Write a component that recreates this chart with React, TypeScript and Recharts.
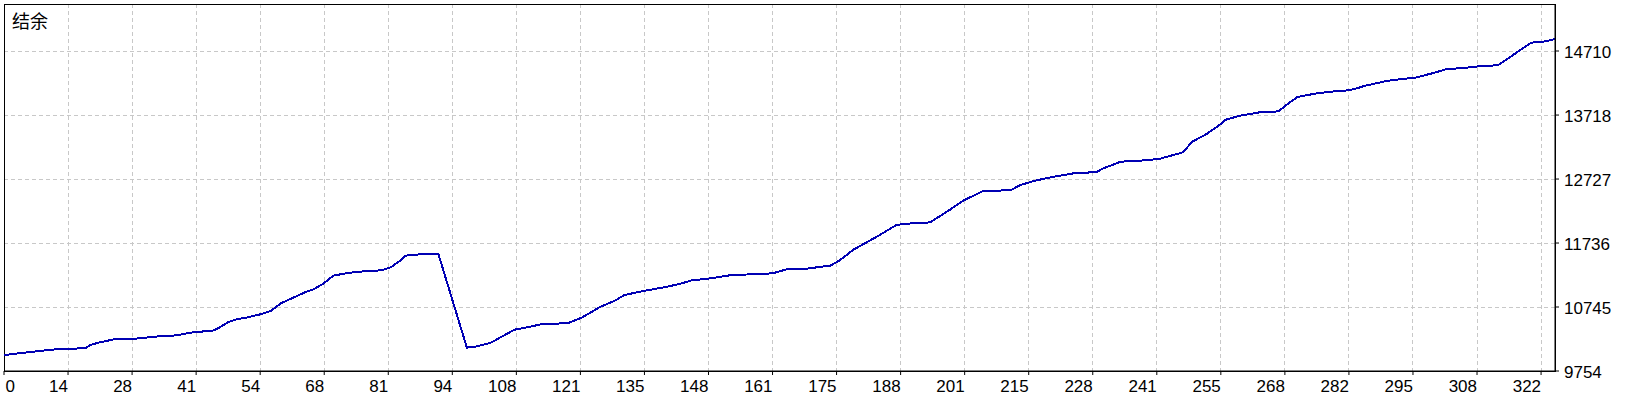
import React from 'react';
import { LineChart, Line, XAxis, YAxis, CartesianGrid, ReferenceArea } from 'recharts';

// Trade number (x) and account balance (y)
const tradeIndex = [
  0, 3, 8, 12, 17, 18, 20, 23, 26, 29, 33, 36, 39, 44, 45, 47, 49, 51, 54, 56,
  58, 60, 63, 65, 67, 69, 72, 76, 79, 81, 83, 84, 87, 91, 97, 99, 102, 104, 107, 110,
  113, 118, 121, 123, 125, 128, 130, 134, 139, 142, 144, 148, 152, 156, 161, 163, 164, 169, 171, 173,
  175, 178, 183, 187, 189, 194, 198, 201, 205, 211, 213, 216, 220, 224, 229, 230, 234, 238, 242, 244,
  247, 249, 252, 255, 256, 259, 263, 267, 269, 271, 275, 278, 281, 283, 285, 290, 296, 300, 302, 307,
  310, 313, 316, 320, 323, 325,
];
const balance = [
  10000, 10027, 10068, 10099, 10104, 10155, 10197, 10243, 10245, 10265, 10296, 10305, 10347, 10383, 10420, 10513, 10559, 10584, 10637, 10688,
  10801, 10869, 10971, 11024, 11111, 11230, 11272, 11303, 11312, 11358, 11462, 11540, 11560, 11571, 10115, 10135, 10192, 10274, 10394, 10435,
  10487, 10491, 10579, 10662, 10750, 10843, 10931, 10993, 11060, 11111, 11157, 11188, 11235, 11250, 11266, 11307, 11328, 11343, 11369, 11380,
  11462, 11633, 11839, 12015, 12035, 12055, 12241, 12392, 12536, 12557, 12635, 12701, 12763, 12814, 12836, 12882, 12996, 13011, 13037, 13078,
  13140, 13305, 13425, 13580, 13646, 13708, 13759, 13775, 13889, 13998, 14053, 14080, 14095, 14121, 14168, 14250, 14301, 14379, 14425, 14456,
  14482, 14487, 14637, 14839, 14859, 14896,
];
const xTickLabels = [0, 14, 28, 41, 54, 68, 81, 94, 108, 121, 135, 148, 161, 175, 188, 201, 215, 228, 241, 255, 268, 282, 295, 308, 322];
const yTickLabels = [9754, 10745, 11736, 12727, 13718, 14710];
const title = '结余';

const X_MAX = 325;
const X_TICK_STEP = 13.42;
const Y_MIN = 9754;
const Y_MAX = 15438;

const data = tradeIndex.map((i, k) => ({ i, v: balance[k] }));
const xTicks = xTickLabels.map((_, k) => k * X_TICK_STEP);

const FONT = '"Liberation Sans", Arial, sans-serif';

function XTick(props: any) {
  const { x, y, payload } = props;
  const k = Math.round(payload.value / X_TICK_STEP);
  const label = xTickLabels[k];
  const first = k === 0;
  return (
    <text
      x={first ? x + 1.5 : x}
      y={y}
      dy="0.71em"
      textAnchor={first ? 'start' : 'end'}
      fontFamily={FONT}
      fontSize={17}
      fill="#000"
    >
      {label}
    </text>
  );
}

function YTick(props: any) {
  const { x, y, payload } = props;
  return (
    <text x={x} y={y} dy="0.42em" textAnchor="start" fontFamily={FONT} fontSize={17} fill="#000">
      {payload.value}
    </text>
  );
}

export default function App() {
  return (
    <div style={{ position: 'absolute', left: 0, top: 0, width: 1640, height: 400, background: '#fff' }}>
      <LineChart width={1640} height={400} data={data} margin={{ top: 4, right: 0, bottom: 0, left: 4 }}>
        <CartesianGrid stroke="#c8c8c8" strokeDasharray="4 3" shapeRendering="crispEdges" />
        <XAxis
          dataKey="i"
          type="number"
          domain={[0, X_MAX]}
          ticks={xTicks}
          interval={0}
          allowDataOverflow
          height={29}
          tickSize={4}
          tickMargin={5}
          tickLine={{ stroke: '#000' }}
          axisLine={{ stroke: '#000' }}
          tick={<XTick />}
        />
        <YAxis
          orientation="right"
          type="number"
          domain={[Y_MIN, Y_MAX]}
          ticks={yTickLabels}
          interval={0}
          allowDataOverflow
          width={85}
          tickSize={4}
          tickMargin={5}
          tickLine={{ stroke: '#000' }}
          axisLine={{ stroke: '#000' }}
          tick={<YTick />}
        />
        <ReferenceArea
          x1={0}
          x2={X_MAX}
          y1={Y_MIN}
          y2={Y_MAX}
          fill="none"
          stroke="#000"
          strokeWidth={1}
          shapeRendering="crispEdges"
        />
        <Line
          type="linear"
          dataKey="v"
          stroke="#0000B4"
          strokeWidth={2}
          shapeRendering="crispEdges"
          dot={false}
          activeDot={false}
          isAnimationActive={false}
        />
      </LineChart>
      <div
        style={{
          position: 'absolute',
          left: 12,
          top: 11,
          fontFamily: '"Noto Sans CJK SC", sans-serif',
          fontSize: 18,
          lineHeight: '18px',
          color: '#000',
          whiteSpace: 'nowrap',
        }}
      >
        {title}
      </div>
    </div>
  );
}
